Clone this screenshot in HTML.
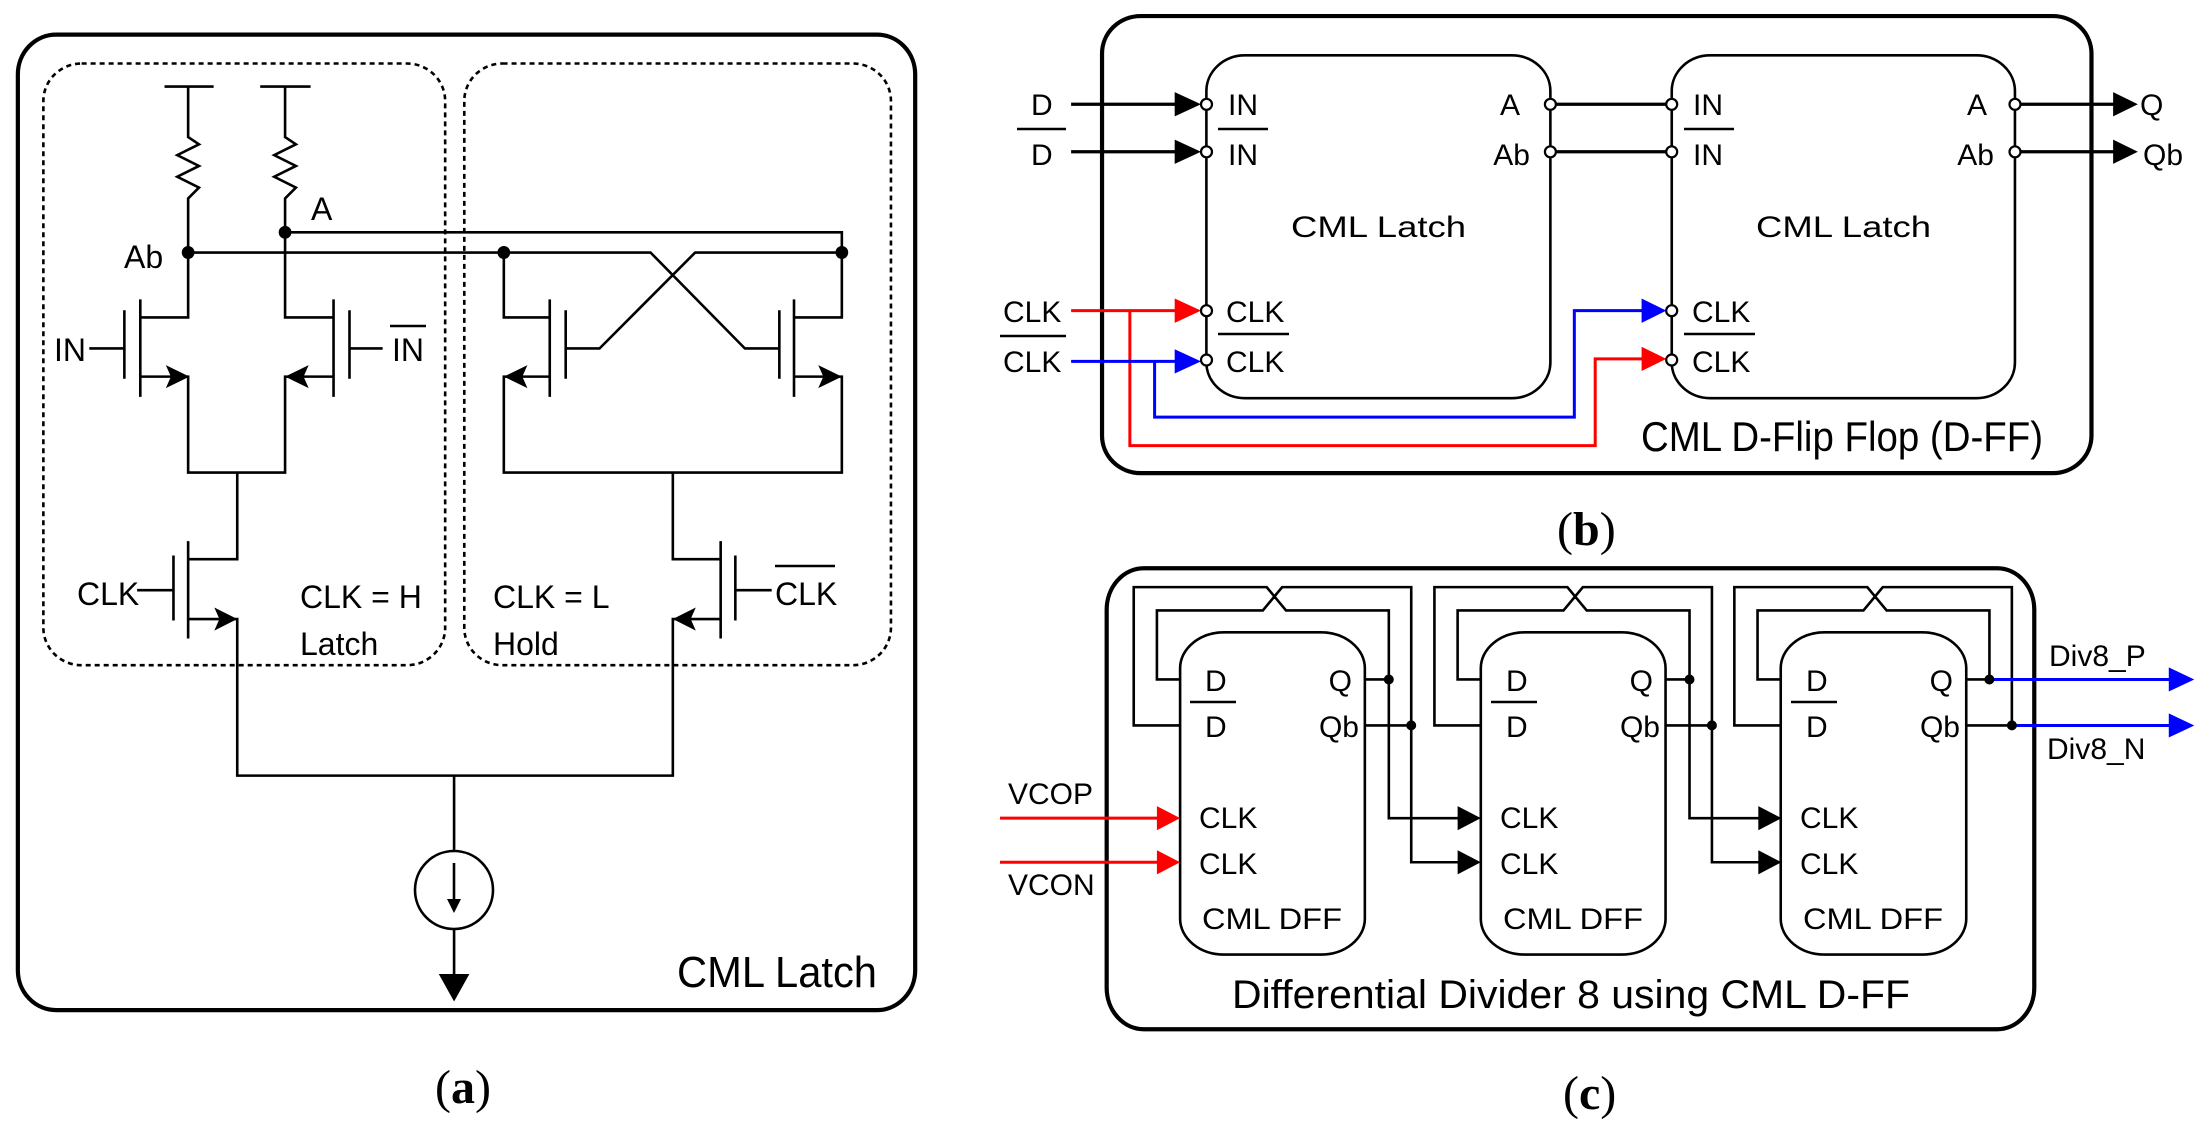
<!DOCTYPE html>
<html><head><meta charset="utf-8"><style>
html,body{margin:0;padding:0;background:#fff}
svg{display:block}
text{font-family:"Liberation Sans",sans-serif;fill:#000}
.s{fill:none;stroke:#000;stroke-width:2.6;vector-effect:non-scaling-stroke}
.t{fill:none;stroke:#000;stroke-width:4.2;vector-effect:non-scaling-stroke}
.d{fill:none;stroke:#000;stroke-width:2.6;stroke-dasharray:5 4;vector-effect:non-scaling-stroke}
.r{fill:none;stroke:#f00;stroke-width:3;vector-effect:non-scaling-stroke}
.b{fill:none;stroke:#00f;stroke-width:3;vector-effect:non-scaling-stroke}
.ar{stroke-width:3.2}
.cap{font-family:"Liberation Serif",serif;font-size:48px}
</style></head><body>
<svg width="2212" height="1131" viewBox="0 0 2212 1131" xmlns="http://www.w3.org/2000/svg">
<!-- ===== Panel A ===== -->
<g transform="scale(0.63776,0.72150)">
<rect class="t" x="28" y="48" width="1407" height="1352" rx="60" ry="55"/>
<rect class="d" x="68" y="88" width="630" height="834" rx="60" ry="52"/>
<rect class="d" x="728" y="88" width="669" height="834" rx="60" ry="52"/>
<path class="s" d="M258,120H335 M295,120V190 L312,200 278,215 312,230 278,245 312,260 295,275 V440 H220
M408,120H487 M447,120V190 L464,200 430,215 464,230 430,245 464,260 447,275 V440 H523
M220,415V550 M195,430V525 M140,483H195 M220,522H295 V655 H447 V522 H523 M523,415V550 M548,430V525 M548,483H600
M447,322 H1320 V350
M295,350 H1020 L1168,483 H1222
M1320,350 H1090 L940,483 H887
M790,350 V440 H862 M862,415V550 M887,430V525 M862,522H790 V655 H1320 V522 H1245 M1245,415V550 M1222,430V525 M1245,440H1320V350
M372,655V775H295 M295,750V885 M272,770V860 M215,818H272 M295,858H372 V1075 H1055 V858 H1130 M1130,750V885 M1153,770V860 M1153,818H1210 M1130,775H1055 V655
M712,1075V1178 M712,1288 V1360"/>
<polygon points="260,506 297,522 260,538 268,522"/>
<polygon points="484,506 447,522 484,538 476,522"/>
<polygon points="827,506 790,522 827,538 819,522"/>
<polygon points="1283,506 1320,522 1283,538 1291,522"/>
<polygon points="336,842 372,858 336,874 344,858"/>
<polygon points="1091,842 1055,858 1091,874 1083,858"/>
<polygon points="688,1350 736,1350 712,1388"/>
<ellipse cx="295" cy="350" rx="10" ry="9"/>
<ellipse cx="447" cy="322" rx="10" ry="9"/>
<ellipse cx="790" cy="350" rx="10" ry="9"/>
<ellipse cx="1320" cy="350" rx="10" ry="9"/>
</g>
<circle cx="454" cy="890" r="39" fill="none" stroke="#000" stroke-width="2.6"/>
<path d="M454,863V902" stroke="#000" stroke-width="2.6"/>
<polygon points="447,899 461,899 454,913"/>
<g font-size="32">
<text x="311" y="220">A</text>
<text x="124" y="268">Ab</text>
<text x="54" y="361">IN</text>
<text x="392" y="361">IN</text><path d="M390,326H426" stroke="#000" stroke-width="2.6"/>
<text x="77" y="605">CLK</text>
<text x="300" y="608">CLK = H</text>
<text x="300" y="655">Latch</text>
<text x="493" y="608">CLK = L</text>
<text x="493" y="655">Hold</text>
<text x="775" y="605">CLK</text><path d="M775,566H835" stroke="#000" stroke-width="2.6"/>
</g>
<text x="677" y="987" font-size="44" textLength="200" lengthAdjust="spacingAndGlyphs">CML Latch</text>
<text class="cap" x="435" y="1103">(<tspan font-weight="bold">a</tspan>)</text>

<!-- ===== Panel B ===== -->
<g transform="translate(1000,0) scale(0.7730,0.3571)">
<rect class="t" x="132" y="45" width="1280" height="1280" rx="50" ry="105"/>
<rect class="s" x="267" y="155" width="445" height="960" rx="50" ry="100"/>
<rect class="s" x="869" y="155" width="444" height="960" rx="50" ry="100"/>
<path class="s ar" d="M92,292H235 M92,425H235 M712,292H869 M712,425H869 M1313,292H1445 M1313,425H1445"/>
<polygon points="226,258 260,292 226,326"/>
<polygon points="226,391 260,425 226,459"/>
<polygon points="1440,258 1472,292 1440,326"/>
<polygon points="1440,391 1472,425 1440,459"/>
<path class="r" d="M92,870H235 M168,870V1248H770V1005H835"/>
<polygon fill="#f00" points="226,836 260,870 226,904"/>
<polygon fill="#f00" points="830,971 862,1005 830,1039"/>
<path class="b" d="M92,1012H235 M200,1012V1168H743V870H835"/>
<polygon fill="#00f" points="226,978 260,1012 226,1046"/>
<polygon fill="#00f" points="830,836 862,870 830,904"/>
</g>
<g fill="#fff" stroke="#000" stroke-width="2.2">
<circle cx="1206.5" cy="104.3" r="5.5"/><circle cx="1206.5" cy="151.8" r="5.5"/>
<circle cx="1206.5" cy="310.7" r="5.5"/><circle cx="1206.5" cy="360" r="5.5"/>
<circle cx="1550.4" cy="104.3" r="5.5"/><circle cx="1550.4" cy="151.8" r="5.5"/>
<circle cx="1671.7" cy="104.3" r="5.5"/><circle cx="1671.7" cy="151.8" r="5.5"/>
<circle cx="1671.7" cy="310.7" r="5.5"/><circle cx="1671.7" cy="360" r="5.5"/>
<circle cx="2015" cy="104.3" r="5.5"/><circle cx="2015" cy="151.8" r="5.5"/>
</g>
<g font-size="30">
<text x="1031" y="115">D</text><text x="1031" y="165">D</text><path d="M1017,129H1066" stroke="#000" stroke-width="2.6"/>
<text x="1228" y="115">IN</text><text x="1228" y="165">IN</text><path d="M1218,129H1268" stroke="#000" stroke-width="2.6"/>
<text x="1693" y="115">IN</text><text x="1693" y="165">IN</text><path d="M1684,129H1734" stroke="#000" stroke-width="2.6"/>
<text x="1520" y="115" text-anchor="end">A</text><text x="1530" y="165" text-anchor="end">Ab</text>
<text x="1987" y="115" text-anchor="end">A</text><text x="1994" y="165" text-anchor="end">Ab</text>
<text x="2140" y="115">Q</text><text x="2143" y="165">Qb</text>
<text x="1003" y="322">CLK</text><text x="1003" y="372">CLK</text><path d="M1000,336H1066" stroke="#000" stroke-width="2.6"/>
<text x="1226" y="322">CLK</text><text x="1226" y="372">CLK</text><path d="M1218,334H1289" stroke="#000" stroke-width="2.6"/>
<text x="1692" y="322">CLK</text><text x="1692" y="372">CLK</text><path d="M1684,334H1755" stroke="#000" stroke-width="2.6"/>
<text x="1291" y="237" textLength="175" lengthAdjust="spacingAndGlyphs">CML Latch</text>
<text x="1756" y="237" textLength="175" lengthAdjust="spacingAndGlyphs">CML Latch</text>
</g>
<text x="1641" y="451" font-size="42" textLength="402" lengthAdjust="spacingAndGlyphs">CML D-Flip Flop (D-FF)</text>
<text class="cap" x="1557" y="545">(<tspan font-weight="bold">b</tspan>)</text>

<!-- ===== Panel C ===== -->
<g transform="translate(1000,540) scale(0.7730,0.37691)">
<rect class="t" x="138" y="75" width="1200" height="1223" rx="48" ry="110"/>
<rect class="s" x="233" y="245" width="239" height="855" rx="57" ry="95"/>
<rect class="s" x="622" y="245" width="239" height="855" rx="57" ry="95"/>
<rect class="s" x="1010" y="245" width="240" height="855" rx="57" ry="95"/>
<path class="s" d="
M233,492 H173 V125 H345 L370,187 H503 V370 H472 M233,370 H203 V187 H340 L365,125 H532 V492 H472
M622,492 H562 V125 H734 L759,187 H892 V370 H861 M622,370 H592 V187 H729 L754,125 H921 V492 H861
M1010,492 H950 V125 H1122 L1147,187 H1280 V370 H1250 M1010,370 H980 V187 H1117 L1142,125 H1309 V492 H1250
M503,370 V738 H600 M532,492 V855 H600 M892,370 V738 H989 M921,492 V855 H989"/>
<polygon points="592,706 622,738 592,770"/>
<polygon points="592,823 622,855 592,887"/>
<polygon points="981,706 1011,738 981,770"/>
<polygon points="981,823 1011,855 981,887"/>
<path class="r" d="M0,738H210 M0,855H210"/>
<polygon fill="#f00" points="203,706 233,738 203,770"/>
<polygon fill="#f00" points="203,823 233,855 203,887"/>
<path class="b" d="M1280,370H1520 M1309,492H1520"/>
<polygon fill="#00f" points="1512,338 1545,370 1512,402"/>
<polygon fill="#00f" points="1512,460 1545,492 1512,524"/>
</g>
<g>
<circle cx="1388.8" cy="679.5" r="5"/><circle cx="1411.2" cy="725.4" r="5"/>
<circle cx="1689.5" cy="679.5" r="5"/><circle cx="1711.9" cy="725.4" r="5"/>
<circle cx="1989.4" cy="679.5" r="5"/><circle cx="2011.9" cy="725.4" r="5"/>
</g>
<g font-size="30">
<text x="1205" y="691">D</text><text x="1205" y="737">D</text><path d="M1190,702H1236" stroke="#000" stroke-width="2.6"/>
<text x="1506" y="691">D</text><text x="1506" y="737">D</text><path d="M1491,702H1537" stroke="#000" stroke-width="2.6"/>
<text x="1806" y="691">D</text><text x="1806" y="737">D</text><path d="M1791,702H1837" stroke="#000" stroke-width="2.6"/>
<text x="1352" y="691" text-anchor="end">Q</text><text x="1359" y="737" text-anchor="end">Qb</text>
<text x="1653" y="691" text-anchor="end">Q</text><text x="1660" y="737" text-anchor="end">Qb</text>
<text x="1953" y="691" text-anchor="end">Q</text><text x="1960" y="737" text-anchor="end">Qb</text>
<text x="1199" y="828">CLK</text><text x="1199" y="874">CLK</text>
<text x="1500" y="828">CLK</text><text x="1500" y="874">CLK</text>
<text x="1800" y="828">CLK</text><text x="1800" y="874">CLK</text>
<text x="1202" y="929" textLength="140" lengthAdjust="spacingAndGlyphs">CML DFF</text>
<text x="1503" y="929" textLength="140" lengthAdjust="spacingAndGlyphs">CML DFF</text>
<text x="1803" y="929" textLength="140" lengthAdjust="spacingAndGlyphs">CML DFF</text>
<text x="1008" y="804">VCOP</text>
<text x="1008" y="895">VCON</text>
<text x="2049" y="666">Div8_P</text>
<text x="2047" y="759">Div8_N</text>
</g>
<text x="1232" y="1008" font-size="40" textLength="678" lengthAdjust="spacingAndGlyphs">Differential Divider 8 using CML D-FF</text>
<text class="cap" x="1563" y="1109">(<tspan font-weight="bold">c</tspan>)</text>
</svg>
</body></html>
